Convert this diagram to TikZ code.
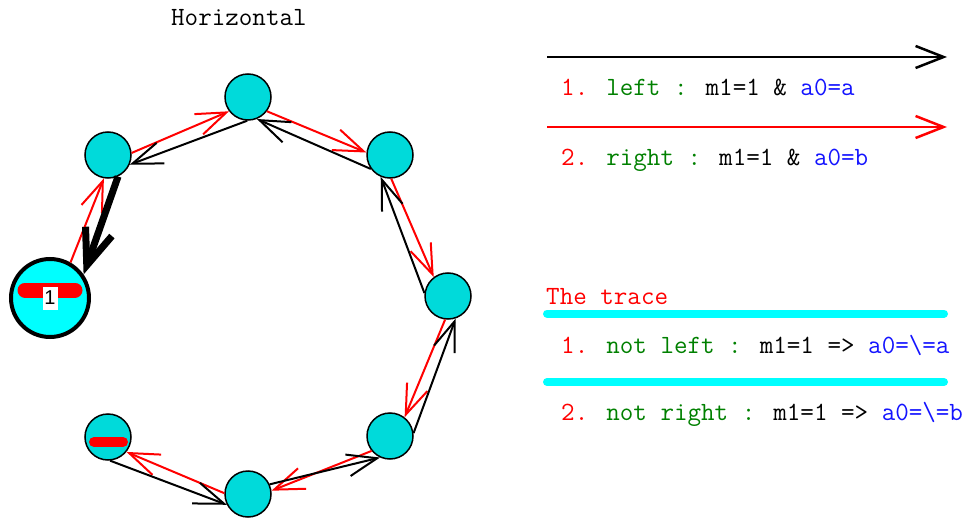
\documentclass[tikz,border=0pt]{standalone}
\usepackage{fontspec}
\newfontfamily\labelfont{Liberation Sans}
\usetikzlibrary{arrows.meta}
\definecolor{nodecyan}{RGB}{0,218,218}
\definecolor{brightcyan}{RGB}{0,255,255}
\definecolor{txtgreen}{RGB}{0,128,0}
\definecolor{txtblue}{RGB}{20,20,255}
\tikzset{
  state/.style={circle, draw=black, line width=1.5pt, fill=nodecyan, minimum size=46pt, inner sep=0pt},
  startstate/.style={circle, draw=black, line width=4pt, fill=brightcyan, minimum size=78pt, inner sep=0pt},
  barb/.style={-{Straight Barb[length=30pt,width=22pt]}},
  redarr/.style={barb, draw=red, line width=2pt},
  blackarr/.style={barb, draw=black, line width=2pt},
  thickarr/.style={-{Straight Barb[length=36pt,width=28pt]}, draw=black, line width=7pt},
  legarr/.style={-{Straight Barb[length=28pt,width=22pt]}, line width=2.5pt},
  txt/.style={anchor=base west, inner sep=0pt, font=\ttfamily\fontsize{26.3}{30}\selectfont},
  markbar/.style={draw=red, line cap=round},
  cyanbar/.style={draw=brightcyan, line width=8pt, line cap=round},
}
\begin{document}
\begin{tikzpicture}[x=1pt,y=-1pt]
\useasboundingbox (0,0) rectangle (968,521);
% nodes
\node[startstate] (n0) at (50,298) {};
\node[state] (n1) at (108,155) {};
\node[state] (n2) at (248,97) {};
\node[state] (n3) at (390,155) {};
\node[state] (n4) at (448,296) {};
\node[state] (n5) at (390,436) {};
\node[state] (n6) at (248,494) {};
\node[state] (n7) at (108,437) {};
% markers
\draw[markbar, line width=15pt] (25,290) -- (75,290);
\node[fill=white, inner sep=0pt, minimum width=15pt, minimum height=23pt, font=\labelfont\fontsize{20}{22}\selectfont] (lab) at (50,298) {1};
\draw[markbar, line width=10pt] (94,442) -- (123,442);
% red arrows (clockwise)
\draw[redarr] (n0.60) -- (n1.260);
\draw[redarr] (n1.5) -- (n2.217);
\draw[redarr] (n2.323) -- (n3.174);
\draw[redarr] (n3.273) -- (n4.127);
\draw[redarr] (n4.263) -- (n5.52);
\draw[redarr] (n5.219) -- (n6.8);
\draw[redarr] (n6.178) -- (n7.321);
% black arrows (counter-clockwise)
\draw[blackarr] (n7.275) -- (n6.207);
\draw[blackarr] (n6.24) -- (n5.245);
\draw[blackarr] (n5.7) -- (n4.289);
\draw[blackarr] (n4.173) -- (n3.247);
\draw[blackarr] (n3.216) -- (n2.292);
\draw[blackarr] (n2.268) -- (n1.336);
\draw[thickarr] (n1.295) -- (n0.35);
% title
\node[txt] (title) at (171,26) {Horizontal};
% legend
\coordinate (l1s) at (547,57);
\coordinate (l1e) at (947,57);
\coordinate (l2s) at (547,127);
\coordinate (l2e) at (947,127);
\draw[legarr, draw=black] (l1s) -- (l1e);
\draw[legarr, draw=red] (l2s) -- (l2e);
\node[txt] (t1) at (561,96) {\textcolor{red}{1.} \textcolor{txtgreen}{left :} m1=1 \& \textcolor{txtblue}{a0=a}};
\node[txt] (t2) at (561,166) {\textcolor{red}{2.} \textcolor{txtgreen}{right :} m1=1 \& \textcolor{txtblue}{a0=b}};
\node[txt, text=red] (t3) at (546,304) {The trace};
\coordinate (c1s) at (547,313.5);
\coordinate (c1e) at (944,313.5);
\draw[cyanbar] (c1s) -- (c1e);
\node[txt] (t4) at (561,353) {\textcolor{red}{1.} \textcolor{txtgreen}{not left :} m1=1 => \textcolor{txtblue}{a0=\textbackslash=a}};
\coordinate (c2s) at (547,382);
\coordinate (c2e) at (944,382);
\draw[cyanbar] (c2s) -- (c2e);
\node[txt] (t5) at (561,420) {\textcolor{red}{2.} \textcolor{txtgreen}{not right :} m1=1 => \textcolor{txtblue}{a0=\textbackslash=b}};
\end{tikzpicture}
\end{document}
